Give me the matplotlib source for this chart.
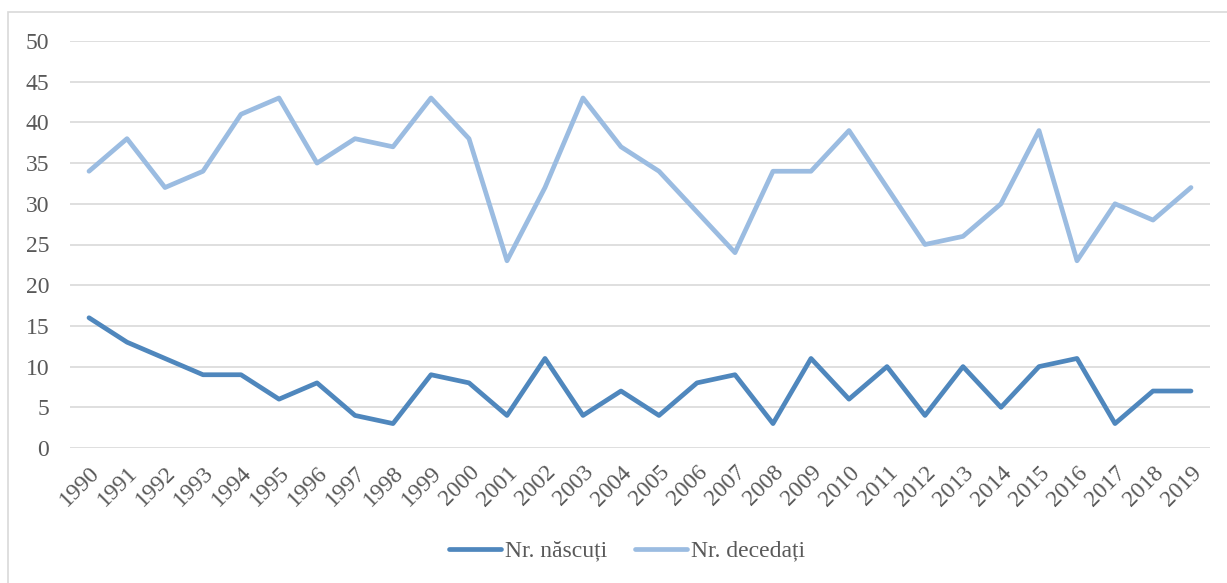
import matplotlib
matplotlib.use("Agg")
import matplotlib.pyplot as plt
from matplotlib.patches import Rectangle

years = [str(y) for y in range(1990, 2020)]
nascuti = [16, 13, 11, 9, 9, 6, 8, 4, 3, 9, 8, 4, 11, 4, 7, 4, 8, 9, 3, 11,
           6, 10, 4, 10, 5, 10, 11, 3, 7, 7]
decedati = [34, 38, 32, 34, 41, 43, 35, 38, 37, 43, 38, 23, 32, 43, 37, 34, 29, 24, 34, 34,
            39, 32, 25, 26, 30, 39, 23, 30, 28, 32]

COL_N = "#4f87bd"
COL_D = "#9bbce1"
TXT = "#595959"
GRID = "#d9d9d9"

plt.rcParams["font.family"] = ["Liberation Serif", "DejaVu Serif"]

fig = plt.figure(figsize=(12.27, 5.83), dpi=100)
ax = fig.add_axes([70 / 1227, 1 - 448 / 583, 1140 / 1227, 407 / 583])

# outer chart border
fig.patches.append(Rectangle((8 / 1227, -0.01), 1.1, 1 - 12 / 583 + 0.01,
                             transform=fig.transFigure, fill=False,
                             edgecolor=GRID, linewidth=1.2))

x = list(range(len(years)))
ax.plot(x, nascuti, color=COL_N, linewidth=3.4, label="Nr. născuți",
        solid_joinstyle="round", solid_capstyle="round")
ax.plot(x, decedati, color=COL_D, linewidth=3.4, label="Nr. decedați",
        solid_joinstyle="round", solid_capstyle="round")

ax.set_xlim(-0.5, len(years) - 0.5)
ax.set_ylim(0, 50)
ax.set_yticks(range(0, 51, 5))
ax.grid(axis="y", color=GRID, linewidth=1.2)
ax.set_axisbelow(True)
for s in ax.spines.values():
    s.set_visible(False)

ax.set_xticks(x)
ax.set_xticklabels(years, rotation=45, ha="right", rotation_mode="anchor")
ax.tick_params(axis="both", length=0, labelsize=17, colors=TXT)
ax.tick_params(axis="y", pad=15)
ax.tick_params(axis="x", pad=10)

leg = fig.legend(loc="center", bbox_to_anchor=(627 / 1227, 1 - 551 / 583), ncol=2,
                 frameon=False, fontsize=17, handlelength=2.2,
                 handletextpad=0.15, columnspacing=1.2)
for t in leg.get_texts():
    t.set_color(TXT)

fig.savefig("out.png", dpi=100)
